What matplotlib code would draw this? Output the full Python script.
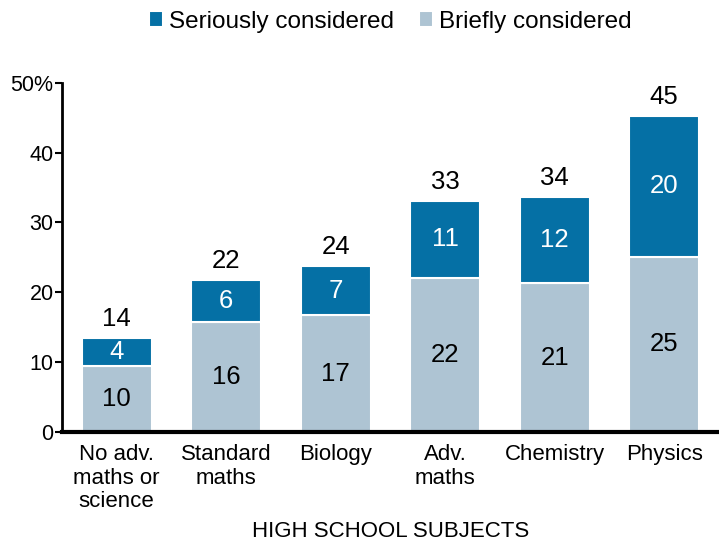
import numpy as np
import matplotlib.pyplot as plt
from matplotlib.ticker import FuncFormatter

plt.rcParams['font.family'] = ['Liberation Sans', 'DejaVu Sans']

subjects = ['No adv.\nmaths or\nscience', 'Standard\nmaths', 'Biology',
            'Adv.\nmaths', 'Chemistry', 'Physics']
# bar heights as drawn (labels are rounded)
briefly = [9.5, 15.8, 16.7, 22.1, 21.3, 25.1]
seriously = [3.9, 6.0, 7.1, 11.0, 12.4, 20.1]
briefly_labels = ['10', '16', '17', '22', '21', '25']
seriously_labels = ['4', '6', '7', '11', '12', '20']
total_labels = ['14', '22', '24', '33', '34', '45']

dark = '#0570a5'
light = '#aec4d3'

fig = plt.figure(figsize=(7.19, 5.41), dpi=100)
ax = fig.add_axes([0.086, 0.2015, 0.914, 0.6455])

x = np.arange(len(subjects))
b1 = ax.bar(x, briefly, width=0.64, color=light, edgecolor='white', linewidth=1.5,
            label='Briefly considered')
b2 = ax.bar(x, seriously, width=0.64, bottom=briefly, color=dark, edgecolor='white',
            linewidth=1.5, label='Seriously considered')

for i in range(len(x)):
    ax.text(x[i], briefly[i] / 2, briefly_labels[i], ha='center', va='center',
            fontsize=18.5, color='black')
    ax.text(x[i], briefly[i] + seriously[i] / 2, seriously_labels[i], ha='center',
            va='center', fontsize=18.5, color='white')
    ax.annotate(total_labels[i], (x[i], briefly[i] + seriously[i]),
                xytext=(0, 5), textcoords='offset points', ha='center', va='bottom',
                fontsize=18.5, color='black')

ax.set_xlim(-0.5, 5.5)
ax.set_ylim(0, 50)
ax.set_yticks([0, 10, 20, 30, 40, 50])
ax.yaxis.set_major_formatter(FuncFormatter(lambda v, p: '50%' if v == 50 else '%d' % v))
ax.set_xticks(x)
ax.set_xticklabels(subjects, fontsize=16, linespacing=1.15)
ax.tick_params(axis='y', labelsize=15.5, length=5, width=1.5, pad=1)
ax.tick_params(axis='x', length=0, pad=9)
ax.set_xlabel('HIGH SCHOOL SUBJECTS', fontsize=16, labelpad=6)

for s in ['top', 'right']:
    ax.spines[s].set_visible(False)
ax.spines['left'].set_linewidth(2)
ax.spines['bottom'].set_linewidth(3)

ax.legend(handles=[b2, b1], loc='center', bbox_to_anchor=(0.5, 1.175),
          ncol=2, frameon=False, fontsize=17.5, handlelength=0.6, handleheight=0.6,
          handletextpad=0.25, columnspacing=1.0)

fig.savefig('out.png', dpi=100)
